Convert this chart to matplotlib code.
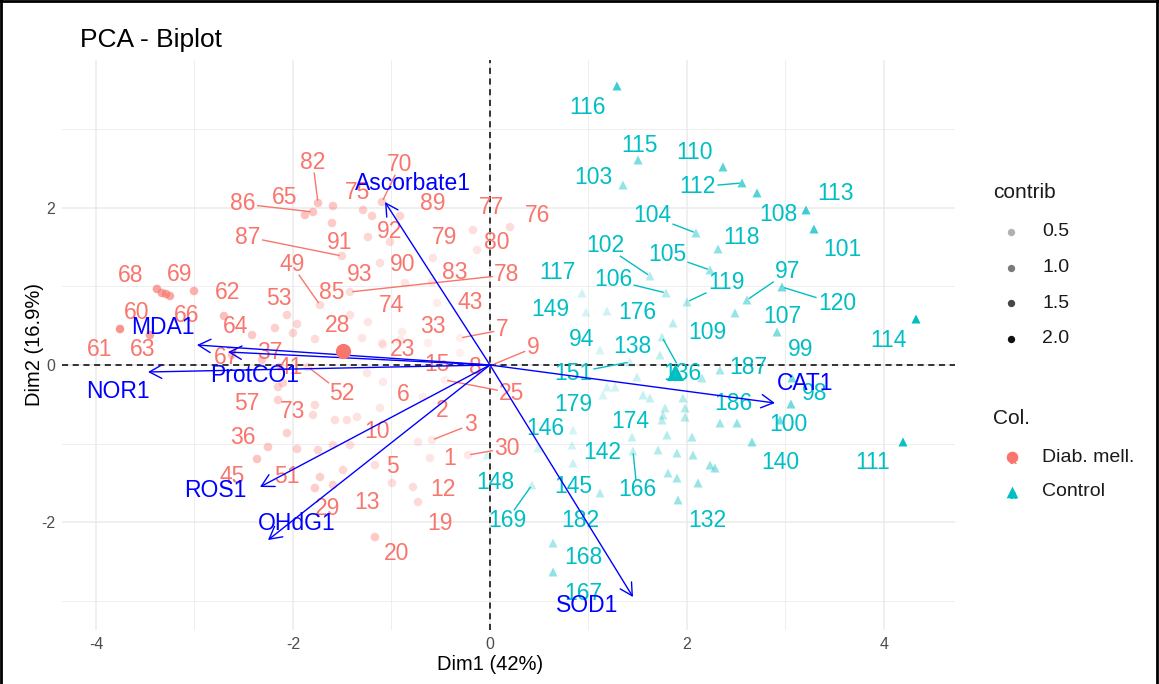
import numpy as np
import matplotlib
matplotlib.use("Agg")
import matplotlib.pyplot as plt
from matplotlib.patches import FancyArrowPatch
from matplotlib.lines import Line2D

# ---------------- data (Dim1, Dim2) ----------------
# Diabetes mellitus individuals with visible labels
dm_ids = ["82", "86", "65", "75", "70", "89", "77", "76", "92", "79", "80", "91", "87", "49",
          "90", "93", "83", "78", "85", "74", "43", "28", "33", "7", "68", "69", "62", "53",
          "60", "66", "64", "61", "63", "67", "37", "41", "57", "73", "36", "45", "51", "52",
          "29", "23", "15", "8", "9", "25", "6", "2", "3", "10", "1", "30", "5", "12", "13",
          "19", "20"]
dm_x = [-1.746, -1.797, -1.878, -1.289, -1.096, -0.914, -0.173, 0.203, -1.198, -0.579, -0.132,
        -1.239, -1.503, -1.726, -1.015, -1.117, -0.589, -1.421, -1.421, -0.893, -0.538, -1.777,
        -0.629, -0.305, -3.381, -3.005, -2.701, -2.061, -3.330, -3.249, -2.416, -3.756, -3.452,
        -2.619, -2.315, -2.132, -2.152, -1.777, -2.254, -2.365, -1.959, -1.848, -1.777, -0.914,
        -0.305, -0.102, 0.020, -0.457, -1.117, -0.680, -0.589, -1.350, -0.609, -0.223, -1.168,
        -0.782, -0.995, -0.731, -1.168]
dm_y = [2.058, 1.944, 1.906, 1.970, 2.071, 1.893, 1.715, 1.753, 1.893, 1.360, 1.461,
        1.626, 1.385, 0.762, 1.563, 1.296, 1.055, 0.928, 0.635, 0.419, 0.788, 0.330,
        0.280, 0.343, 0.966, 0.940, 0.623, 0.635, 0.915, 0.877, 0.381, 0.457, 0.381,
        0.127, 0.064, -0.025, -0.445, -0.508, -1.042, -1.194, -1.067, -0.025, -1.563, 0.318,
        0.152, -0.089, 0.000, -0.191, -0.546, -0.407, -0.953, -0.661, -1.182, -1.144, -1.271,
        -1.550, -1.499, -1.741, -2.186]
dm_lab_x = [-1.797, -2.508, -2.081, -1.340, -0.914, -0.579, 0.020, 0.487, -1.015, -0.457, 0.071,
            -1.523, -2.457, -2.010, -0.883, -1.320, -0.355, 0.173, -1.604, -0.995, -0.203, -1.543,
            -0.579, 0.122, -3.645, -3.147, -2.660, -2.142, -3.584, -3.076, -2.579, -3.959, -3.523,
            -2.670, -2.234, -2.030, -2.467, -2.000, -2.508, -2.619, -2.061, -1.503, -1.645, -0.883,
            -0.538, -0.152, 0.437, 0.223, -0.883, -0.487, -0.203, -1.147, -0.406, 0.173, -0.985,
            -0.477, -1.249, -0.508, -0.944]
dm_lab_y = [2.567, 2.046, 2.122, 2.186, 2.541, 2.058, 1.995, 1.893, 1.690, 1.614, 1.550,
            1.550, 1.626, 1.271, 1.271, 1.144, 1.169, 1.144, 0.915, 0.762, 0.788, 0.508,
            0.483, 0.445, 1.131, 1.156, 0.915, 0.851, 0.661, 0.635, 0.483, 0.191, 0.191,
            0.089, 0.165, -0.038, -0.483, -0.597, -0.915, -1.423, -1.423, -0.356, -1.817, 0.191,
            0.000, -0.038, 0.216, -0.356, -0.381, -0.572, -0.762, -0.851, -1.182, -1.055, -1.296,
            -1.588, -1.741, -2.008, -2.389]
# Diabetes mellitus individuals whose labels are hidden
dm_hidden_x = [-2.183, -1.959, -2.000, -2.152, -2.102, -1.797, -1.574, -1.452, -2.061, -1.746,
               -1.726, -1.492, -1.594, -1.421, -1.594, -0.731, -1.249, -1.086, -1.299, -1.096,
               -1.604, -0.863, -1.086, -3.289, -1.594, -1.239]
dm_hidden_y = [0.470, 0.521, 0.407, -0.280, -0.229, -0.635, -0.699, -0.699, -0.864, -1.080,
               -1.423, -1.334, -1.017, -1.017, -1.525, -0.978, -0.102, -0.216, 0.343, 0.280,
               1.804, 1.042, 0.254, 0.902, 2.020, 0.546]

# Control individuals with visible labels
ct_ids = ["116", "115", "103", "110", "112", "108", "113", "101", "104", "118", "102", "105",
          "106", "119", "120", "97", "107", "114", "99", "98", "100", "111", "140", "109", "117",
          "149", "176", "94", "136", "138", "151", "187", "186", "179", "174", "146", "142",
          "166", "145", "182", "148", "169", "168", "167", "132"]
ct_x = [1.289, 1.503, 1.350, 2.365, 2.558, 2.711, 3.208, 3.289, 2.091, 2.315, 1.624, 2.234,
        1.787, 2.000, 2.964, 2.609, 2.914, 4.325, 3.066, 3.056, 2.944, 4.193, 2.660, 1.858, 0.934,
        0.975, 1.188, 1.117, 1.746, 1.726, 1.421, 2.335, 2.508, 0.843, 1.442, 0.487, 0.832,
        1.452, 0.843, 1.117, -0.030, 0.426, 0.640, 0.640, 1.909]
ct_y = [3.545, 2.605, 2.287, 2.516, 2.313, 2.186, 1.970, 1.728, 1.677, 1.474, 1.131, 1.207,
        0.915, 0.801, 0.991, 0.826, 0.419, 0.584, -0.165, -0.496, -0.699, -0.978, -0.978, 0.534, 0.915,
        0.673, 0.686, 0.191, 0.356, 0.127, 0.038, -0.064, -0.737, -0.826, -0.915, -1.055, -1.017,
        -1.093, -1.245, -1.626, -1.144, -1.525, -2.262, -2.630, -1.715]
ct_lab_x = [0.995, 1.523, 1.046, 2.081, 2.102, 2.924, 3.503, 3.574, 1.645, 2.558, 1.168, 1.797,
            1.249, 2.406, 3.523, 3.025, 2.964, 4.041, 3.157, 3.299, 3.025, 3.888, 2.944, 2.203, 0.680,
            0.609, 1.492, 0.934, 1.949, 1.442, 0.843, 2.619, 2.467, 0.843, 1.421, 0.558, 1.137,
            1.492, 0.843, 0.914, 0.051, 0.173, 0.944, 0.944, 2.203]
ct_lab_y = [3.266, 2.795, 2.376, 2.706, 2.262, 1.906, 2.173, 1.461, 1.893, 1.626, 1.512, 1.398,
            1.080, 1.042, 0.775, 1.182, 0.610, 0.305, 0.191, -0.356, -0.762, -1.233, -1.233, 0.407, 1.169,
            0.699, 0.661, 0.318, -0.102, 0.229, -0.102, -0.038, -0.483, -0.508, -0.724, -0.801, -1.118,
            -1.588, -1.550, -1.970, -1.487, -1.970, -2.440, -2.897, -1.970]
ct_hidden_x = [2.487, 1.492, 1.188, 1.269, 1.147, 1.553, 1.624, 1.959, 2.152, 1.777, 1.756,
               1.980, 1.980, 1.746, 2.335, 1.797, 2.051, 1.706, 1.898, 2.061, 2.234, 2.284,
               1.807, 1.898, 2.112]
ct_hidden_y = [0.661, -0.152, -0.280, -0.280, -0.381, -0.381, -0.419, -0.419, -0.165, -0.546, -0.635,
               -0.546, -0.661, -0.699, -0.737, -0.889, -0.915, -1.080, -1.118, -1.144, -1.271, -1.309,
               -1.372, -1.436, -1.499]

# Variables (arrows)
var_names = ["Ascorbate1", "MDA1", "NOR1", "ProtCO1", "ROS1", "OHdG1", "CAT1", "SOD1"]
var_x = [-1.066, -2.975, -3.472, -2.660, -2.335, -2.254, 2.893, 1.452]
var_y = [2.071, 0.254, -0.089, 0.165, -1.550, -2.224, -0.483, -2.948]
var_lab_x = [-0.78, -3.32, -3.78, -2.39, -2.79, -1.96, 3.20, 0.99]
var_lab_y = [2.31, 0.47, -0.34, -0.13, -1.59, -2.01, -0.23, -3.05]

groups = ["Diab. mell.", "Control"]
pct_dim1, pct_dim2 = 42, 16.9
n_vars, n_ind = 8, 187
contrib_breaks = [0.5, 1.0, 1.5, 2.0]

# ---------------- style ----------------
RED, TEAL, BLUE = "#F8766D", "#00BFC4", "#0000FF"
LABEL_FS = 16.5
W, H = 1159, 684
plt.rcParams['font.family'] = ['Liberation Sans', 'DejaVu Sans']

fig = plt.figure(figsize=(W / 100, H / 100), dpi=100)
ax = fig.add_axes([62 / W, 1 - 630 / H, (955 - 62) / W, (630 - 60) / H])
ax.set_xlim(-4.345, 4.721)
ax.set_ylim(-3.367, 3.875)
ax.set_xticks([-4, -2, 0, 2, 4])
ax.set_xticks([-3, -1, 1, 3], minor=True)
ax.set_yticks([-2, 0, 2])
ax.set_yticks([-3, -1, 1, 3], minor=True)
ax.set_xticklabels(["-4", "-2", "0", "2", "4"])
ax.set_yticklabels(["-2", "0", "2"])
ax.grid(which="major", color="#EBEBEB", lw=1.1, zorder=0)
ax.grid(which="minor", color="#EBEBEB", lw=0.6, zorder=0)
ax.set_axisbelow(True)
for s in ax.spines.values():
    s.set_visible(False)
ax.tick_params(which="both", length=0, labelsize=11.5, labelcolor="#4D4D4D", pad=5)

ax.axhline(0, color="black", ls=(0, (4, 3)), lw=1.1, zorder=1)
ax.axvline(0, color="black", ls=(0, (4, 3)), lw=1.1, zorder=1)

# contribution -> alpha
eig_sum = n_vars * (pct_dim1 + pct_dim2) / 100.0
all_x = np.array(dm_x + dm_hidden_x + ct_x + ct_hidden_x)
all_y = np.array(dm_y + dm_hidden_y + ct_y + ct_hidden_y)
def contrib(x, y):
    return 100.0 * (np.asarray(x) ** 2 + np.asarray(y) ** 2) / (n_ind * eig_sum)
cmin, cmax = contrib(all_x, all_y).min(), contrib(all_x, all_y).max()
def alpha_of(c):
    return 0.1 + 0.9 * (np.asarray(c) - cmin) / (cmax - cmin)

def rgba(col, alphas):
    r, g, b, _ = matplotlib.colors.to_rgba(col)
    return [(r, g, b, float(a)) for a in np.atleast_1d(alphas)]

gx_dm = np.array(dm_x + dm_hidden_x); gy_dm = np.array(dm_y + dm_hidden_y)
gx_ct = np.array(ct_x + ct_hidden_x); gy_ct = np.array(ct_y + ct_hidden_y)
ax.scatter(gx_dm, gy_dm, s=38, marker="o", c=rgba(RED, alpha_of(contrib(gx_dm, gy_dm))),
           linewidths=0, zorder=3)
ax.scatter(gx_ct, gy_ct, s=42, marker="^", c=rgba(TEAL, alpha_of(contrib(gx_ct, gy_ct))),
           linewidths=0, zorder=3)

fig.canvas.draw()
em = LABEL_FS * 100 / 72.0
inv = ax.transData.inverted()

def draw_labels(ids, px, py, lx, ly, col):
    for t, x0, y0, x1, y1 in zip(ids, px, py, lx, ly):
        ax.text(x1, y1, t, color=col, fontsize=LABEL_FS, ha="center", va="center", zorder=5)
        P = ax.transData.transform((x0, y0))
        L = ax.transData.transform((x1, y1))
        d = P - L
        dist = np.hypot(*d)
        if dist > 38:
            hw = 0.556 * em * len(t) / 2 + 2
            hh = 0.36 * em + 2
            tt = min(hw / abs(d[0]) if d[0] != 0 else 1e9, hh / abs(d[1]) if d[1] != 0 else 1e9)
            start = L + d * tt
            end = P - d / dist * 3
            s_ = inv.transform(start); e_ = inv.transform(end)
            ax.plot([s_[0], e_[0]], [s_[1], e_[1]], color=col, lw=1.0, zorder=4)

draw_labels(dm_ids, dm_x, dm_y, dm_lab_x, dm_lab_y, RED)
draw_labels(ct_ids, ct_x, ct_y, ct_lab_x, ct_lab_y, TEAL)

# variable arrows
for name, vx, vy, tx, ty in zip(var_names, var_x, var_y, var_lab_x, var_lab_y):
    arr = FancyArrowPatch((0, 0), (vx, vy), arrowstyle="->,head_length=0.55,head_width=0.3",
                          mutation_scale=16, color=BLUE, lw=1.0, shrinkA=0, shrinkB=0, zorder=6)
    ax.add_patch(arr)
    ax.text(tx, ty, name, color=BLUE, fontsize=LABEL_FS, ha="center", va="center", zorder=7)

# group mean points
ax.scatter([gx_dm.mean()], [gy_dm.mean()], s=120, marker="o", color=RED, linewidths=0, zorder=8)
ax.scatter([gx_ct.mean()], [gy_ct.mean()], s=150, marker="^", color=TEAL, linewidths=0, zorder=8)

# titles
fig.text(80 / W, 1 - 40 / H, "PCA - Biplot", fontsize=19, ha="left", va="center")
fig.text(490 / W, 1 - 665 / H, "Dim1 (%g%%)" % pct_dim1, fontsize=14.5, ha="center", va="center")
fig.text(35 / W, 1 - 345 / H, "Dim2 (%g%%)" % pct_dim2, fontsize=14.5, ha="center", va="center",
         rotation=90)

# legend (overlay axes in pixel units)
lax = fig.add_axes([0, 0, 1, 1], facecolor="none")
lax.set_xlim(0, W); lax.set_ylim(H, 0); lax.axis("off")
lax.text(993, 192, "contrib", fontsize=15, ha="left", va="center", color="#1A1A1A")
for i, b in enumerate(contrib_breaks):
    yy = 232 + i * 35.5
    lax.scatter([1011], [yy], s=28, color=rgba("black", alpha_of(b))[0], linewidths=0)
    lax.text(1042, yy, "%.1f" % b, fontsize=14, ha="left", va="center", color="#1A1A1A")
lax.text(993, 419, "Col.", fontsize=15, ha="left", va="center", color="#1A1A1A")
for i, (g, col, mk) in enumerate(zip(groups, [RED, TEAL], ["o", "^"])):
    yy = 457 + i * 35
    lax.text(1012, yy + 3, "a", fontsize=10, ha="center", va="center", color=col)
    lax.scatter([1012], [yy], s=70, marker=mk, color=col, linewidths=0)
    lax.text(1042, yy, g, fontsize=14, ha="left", va="center", color="#1A1A1A")

# screenshot frame
for xs, ys in [([0, W], [1, 1]), ([1, 1], [0, H]), ([W - 2, W - 2], [0, H])]:
    lax.add_line(Line2D(xs, ys, color="black", lw=2))

fig.savefig("out.png", dpi=100)
